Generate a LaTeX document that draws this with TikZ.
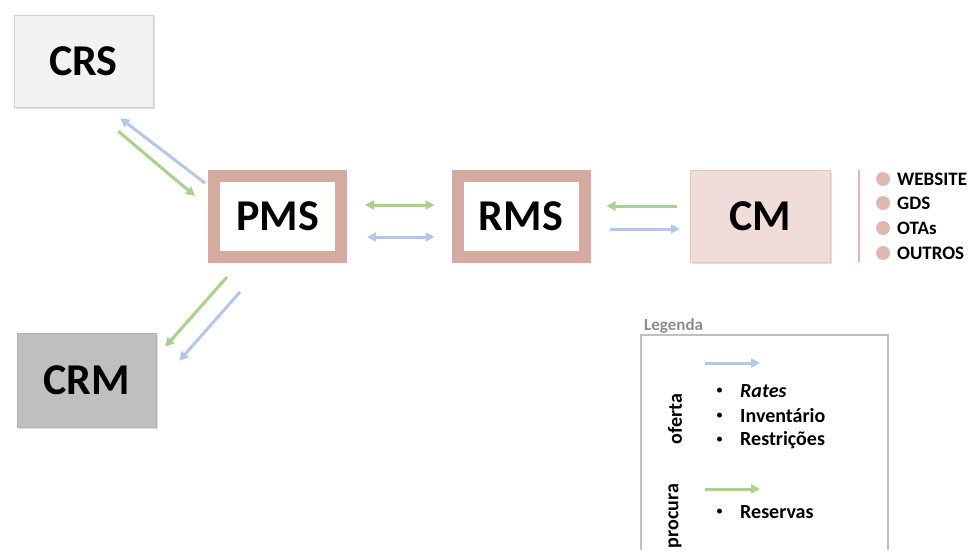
\documentclass[tikz,border=0pt]{standalone}
\usepackage{fontspec}
\setmainfont{Carlito}
\usetikzlibrary{calc}
\usetikzlibrary{shadows}
\usetikzlibrary{arrows.meta}
\definecolor{crsfill}{HTML}{F2F2F2}
\definecolor{crsline}{HTML}{CFCFCF}
\definecolor{crmfill}{HTML}{BFBFBF}
\definecolor{crmline}{HTML}{B0B0B0}
\definecolor{rose}{HTML}{D5AAA1}
\definecolor{cmfill}{HTML}{F0DCD9}
\definecolor{cmline}{HTML}{E6C6BF}
\definecolor{dotrose}{HTML}{DDB9B1}
\definecolor{offer}{HTML}{B4C7E7}
\definecolor{demand}{HTML}{A9D18E}
\definecolor{legline}{HTML}{BFBFBF}
\definecolor{leggray}{HTML}{8C8C8C}
\tikzset{node style sys/.style={rectangle, font=\fontsize{44}{44}\selectfont\bfseries,
           drop shadow={opacity=0.25, shadow xshift=2pt, shadow yshift=-2pt}},
         node style core/.style={node style sys, draw=rose, line width=12pt, fill=white,
           minimum width=127, minimum height=81},
         node style chan/.style={font=\fontsize{19}{19}\selectfont\bfseries, anchor=west, inner sep=0pt},
         node style dot/.style={circle, fill=dotrose, inner sep=0pt, minimum size=14},
         node style leg/.style={font=\fontsize{20}{20}\selectfont\bfseries, anchor=west, inner sep=0pt},
         arrow style offer/.style={line width=3pt, color=offer, ->, >={Triangle[length=9pt,width=9pt]}},
         arrow style demand/.style={line width=3pt, color=demand, ->, >={Triangle[length=9pt,width=9pt]}}}
\begin{document}
\begin{tikzpicture}[x=1pt,y=1pt]
   % [[[ systems
   \useasboundingbox (0,0) rectangle (976,550);
   \node (crs) [node style sys, fill=crsfill, draw=crsline, minimum width=139, minimum height=92] at (83.5,489) {CRS};
   \node (crm) [node style sys, fill=crmfill, draw=crmline, minimum width=139, minimum height=94] at (86.5,170) {CRM};
   \node (pms) [node style core] at (277.5,333.5) {PMS};
   \node (rms) [node style core] at (521,334) {RMS};
   \node (cm) [node style sys, fill=cmfill, draw=cmline, minimum width=140, minimum height=92] at (760,334) {CM};
   % ]]]

   % [[[ flows between systems
   \draw [arrow style offer] ([shift={(-3,-13)}]pms.north west) to ([shift={(-33,-11)}]crs.south east);
   \draw [arrow style demand] ([shift={(-35,-24)}]crs.south east) to ([shift={(-13,-26)}]pms.north west);
   \draw [arrow style demand] ([shift={(19,-14)}]pms.south west) to ([shift={(9,-14)}]crm.north east);
   \draw [arrow style offer] ([shift={(32,-29)}]pms.south west) to ([shift={(23,-28)}]crm.north east);
   \draw [arrow style demand,<->] ([shift={(18,11.5)}]pms.east) to ([shift={(-17,11)}]rms.west);
   \draw [arrow style offer,<->] ([shift={(20,-20.5)}]pms.east) to ([shift={(-17,-21)}]rms.west);
   \draw [arrow style demand] ([shift={(-13,10)}]cm.west) to ([shift={(16,10)}]rms.east);
   \draw [arrow style offer] ([shift={(19,-13)}]rms.east) to ([shift={(-10,-13)}]cm.west);
   % ]]]

   % [[[ channels of the CM
   \draw [line width=2pt, color=dotrose] ([xshift=29]cm.north east) -- ([xshift=29]cm.south east);
   \node (d1) [node style dot] at (883,371) {};
   \node (d2) [node style dot] at (883,347) {};
   \node (d3) [node style dot] at (883,322) {};
   \node (d4) [node style dot] at (883,297) {};
   \node (web) [node style chan] at (897,371) {WEBSITE};
   \node (gds) [node style chan] at (897,347) {GDS};
   \node (otas) [node style chan] at (897,322) {OTAs};
   \node (outros) [node style chan] at (897,297) {OUTROS};
   % ]]]

   % [[[ legend
   \node (legenda) [anchor=west, inner sep=0pt, text=leggray, font=\fontsize{17}{17}\selectfont\bfseries] at (644,224) {Legenda};
   \draw [color=legline, line width=1.2pt] (641,0) |- (888,215) -- (888,0);
   \coordinate (lo1) at (705,187); \coordinate (lo2) at (760,187);
   \coordinate (ld1) at (705,61);  \coordinate (ld2) at (760,61);
   \draw [arrow style offer] (lo1) -- (lo2);
   \draw [arrow style demand] (ld1) -- (ld2);
   \node (oferta) [rotate=90, font=\fontsize{20}{20}\selectfont\bfseries] at (675,131) {oferta};
   \node (procura) [rotate=90, font=\fontsize{20}{20}\selectfont\bfseries] at (675,34) {procura};
   \foreach \y/\name/\txt in {159/rates/\textit{Rates}, 134/inv/Inventário, 110/restr/Restrições, 38/reserv/Reservas} {
      \node (b-\name) [node style leg, font=\fontsize{14}{14}\selectfont] at (716,\y) {\textbullet};
      \node (\name) [node style leg] at (740,\y) {\txt};
   }
   % ]]]
\end{tikzpicture}
\end{document}
